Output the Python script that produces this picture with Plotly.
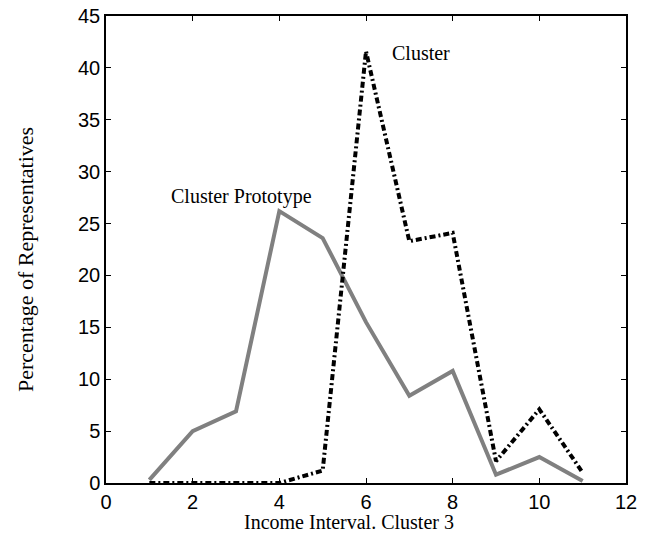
import plotly.graph_objects as go

income_interval = [1, 2, 3, 4, 5, 6, 7, 8, 9, 10, 11]
prototype_pct = [0.3, 5.0, 6.9, 26.2, 23.6, 15.5, 8.4, 10.8, 0.8, 2.5, 0.2]
cluster_pct = [0.0, 0.0, 0.0, 0.0, 1.2, 41.6, 23.3, 24.1, 2.1, 7.1, 1.0]

serif = "Liberation Serif"
fig = go.Figure()
fig.add_trace(go.Scatter(x=income_interval, y=prototype_pct, mode="lines",
                         line=dict(color="#808080", width=4), name="Cluster Prototype"))
fig.add_trace(go.Scatter(x=income_interval, y=cluster_pct, mode="lines",
                         line=dict(color="black", width=4, dash="6px,3px,2px,3px"), name="Cluster"))

fig.add_annotation(x=6.55, y=41.4, text="Cluster", showarrow=False, xanchor="left", yanchor="middle",
                   font=dict(family=serif, size=20, color="black"))
fig.add_annotation(x=1.45, y=27.6, text="Cluster Prototype", showarrow=False, xanchor="left", yanchor="middle",
                   font=dict(family=serif, size=20, color="black"))

axis_common = dict(showgrid=False, zeroline=False, showline=True, linecolor="black", linewidth=1.5,
                   mirror="ticks", ticks="inside", ticklen=5, tickcolor="black", tickwidth=1,
                   automargin=False,
                   tickfont=dict(family="Liberation Sans", size=20, color="black"))
fig.update_xaxes(range=[0, 12], tick0=0, dtick=2, **axis_common)
fig.update_yaxes(range=[0, 45], tick0=0, dtick=5, **axis_common)

W, H = 650, 535
L, R, T, B = 106, 24, 16, 52
pw, ph = W - L - R, H - T - B
# x-axis title
fig.add_annotation(x=(349 - L) / pw, y=(H - 522 - B) / ph, xref="paper", yref="paper",
                   text="Income Interval. Cluster 3", showarrow=False,
                   font=dict(family=serif, size=20, color="black"), xanchor="center", yanchor="middle")
# y-axis title
fig.add_annotation(x=(25 - L) / pw, y=(H - 260 - B) / ph, xref="paper", yref="paper",
                   text="Percentage of Representatives", showarrow=False, textangle=-90,
                   font=dict(family=serif, size=22, color="black"), xanchor="center", yanchor="middle")

fig.update_layout(width=W, height=H, showlegend=False, plot_bgcolor="white", paper_bgcolor="white",
                  margin=dict(l=L, r=R, t=T, b=B))
fig.write_html("out.html", config={"displayModeBar": False},
               post_script="document.body.style.margin='0';document.body.style.overflow='hidden';")
